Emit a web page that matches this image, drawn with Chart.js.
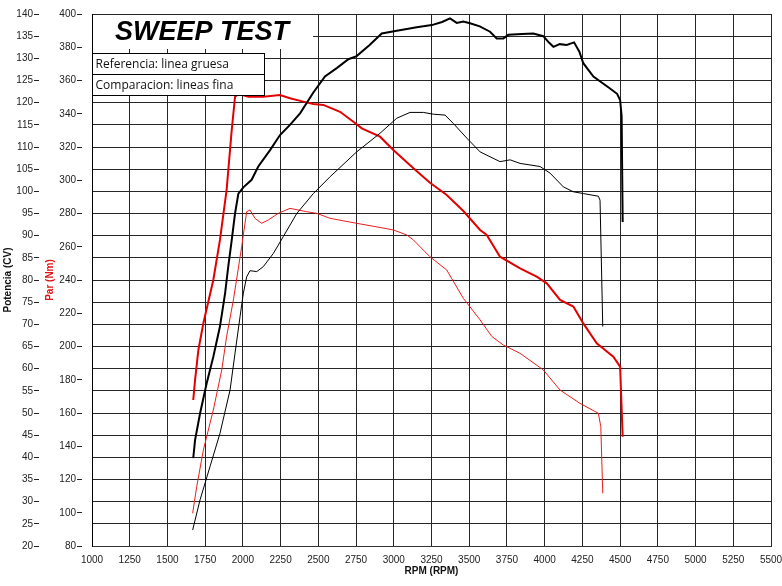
<!DOCTYPE html>
<html>
<head>
<meta charset="utf-8">
<script src="https://cdn.jsdelivr.net/npm/chart.js@4"></script>
<style>
  body { margin: 0; background: #fff; }
  #wrap { width: 782px; height: 586px; }
</style>
</head>
<body>
<div id="wrap"><canvas id="dyno"></canvas></div>
<script>
// Referencia (linea gruesa) - potencia CV
const refPowerRpm = [1671, 1683, 1716, 1760, 1804, 1848, 1882, 1903, 1926, 1948, 1970, 2003, 2058, 2102, 2180, 2246, 2312, 2379, 2467, 2544, 2622, 2699, 2754, 2840, 2920, 3020, 3152, 3252, 3320, 3373, 3417, 3461, 3505, 3570, 3638, 3682, 3726, 3759, 3850, 3925, 3991, 4030, 4058, 4100, 4146, 4195, 4230, 4256, 4323, 4433, 4480, 4500, 4510, 4517];
const refPowerCv = [39.8, 43.9, 49.9, 56.7, 62.7, 69.5, 77.0, 83.0, 89.0, 95.0, 99.5, 100.9, 102.6, 105.6, 109.3, 112.7, 115.0, 117.6, 122.3, 125.9, 127.8, 129.8, 130.5, 133.0, 135.6, 136.2, 137.0, 137.5, 138.2, 139.0, 138.0, 138.3, 137.9, 137.2, 136.0, 134.5, 134.5, 135.3, 135.5, 135.6, 135.0, 133.5, 132.6, 133.2, 133.0, 133.6, 131.5, 128.9, 125.9, 123.2, 122.0, 120.6, 117.0, 93.1];

// Comparacion (linea fina) - potencia CV
const cmpPowerRpm = [1667, 1716, 1782, 1848, 1915, 1948, 1981, 2003, 2025, 2047, 2092, 2135, 2202, 2268, 2357, 2467, 2578, 2754, 2909, 3020, 3108, 3196, 3262, 3340, 3395, 3484, 3572, 3704, 3771, 3837, 3969, 4036, 4124, 4190, 4256, 4356, 4367, 4385];
const cmpPowerCv = [23.6, 30.4, 37.9, 45.4, 55.2, 63.5, 71.7, 77.0, 80.7, 82.1, 81.9, 83.0, 86.0, 89.8, 95.0, 99.5, 103.3, 108.9, 113.1, 116.5, 117.8, 117.8, 117.4, 117.2, 115.3, 112.0, 108.9, 106.7, 107.1, 106.3, 105.6, 104.1, 101.0, 99.9, 99.5, 98.9, 98.0, 69.5];

// Referencia (linea gruesa) - par Nm
const refTorqueRpm = [1671, 1683, 1705, 1738, 1804, 1848, 1892, 1926, 1948, 1970, 2036, 2135, 2246, 2312, 2400, 2467, 2533, 2644, 2732, 2788, 2909, 2997, 3130, 3240, 3351, 3461, 3572, 3616, 3704, 3837, 3947, 4014, 4102, 4190, 4256, 4345, 4455, 4500, 4517];
const refTorqueNm = [167.8, 179.8, 197.9, 214.0, 240.0, 264.1, 294.1, 330.2, 350.3, 352.0, 350.3, 350.3, 351.3, 349.3, 347.3, 345.9, 345.3, 341.2, 335.2, 331.2, 326.2, 318.2, 307.2, 298.5, 291.1, 281.5, 270.1, 267.1, 254.0, 247.0, 242.0, 238.0, 228.0, 224.0, 213.9, 201.9, 193.9, 187.9, 145.7];

// Comparacion (linea fina) - par Nm
const cmpTorqueRpm = [1667, 1694, 1738, 1804, 1860, 1892, 1937, 1992, 2025, 2047, 2080, 2124, 2168, 2235, 2312, 2423, 2489, 2578, 2754, 2909, 2997, 3086, 3130, 3196, 3240, 3351, 3461, 3572, 3650, 3726, 3837, 3991, 4102, 4234, 4356, 4372, 4385];
const cmpTorqueNm = [99.7, 115.7, 137.7, 161.8, 185.9, 205.9, 228.0, 260.0, 281.1, 282.1, 277.1, 274.1, 276.1, 280.1, 283.1, 281.1, 280.1, 277.1, 274.1, 271.6, 270.1, 267.1, 264.1, 258.0, 254.0, 246.0, 229.0, 216.0, 206.0, 200.9, 195.9, 185.9, 173.8, 165.8, 159.8, 151.8, 111.7];

const legendLines = ['Referencia: linea gruesa', 'Comparacion: lineas fina'];
const chartTitle = 'SWEEP TEST';

const toPoints = (xs, ys) => xs.map((x, i) => ({ x: x, y: ys[i] }));

const tickFont = { family: 'Liberation Sans, Arial, sans-serif', size: 10 };
const axisTitleFont = { family: 'Liberation Sans, Arial, sans-serif', size: 10, weight: 'bold' };

// cuadro blanco del titulo y cajas de leyenda
const overlayPlugin = {
  id: 'overlay',
  beforeDatasetsDraw(chart) {
    const { ctx, chartArea } = chart;
    ctx.save();
    ctx.fillStyle = '#fff';
    ctx.fillRect(chartArea.left + 1, chartArea.top + 1, 220, 34);
    ctx.fillStyle = '#000';
    ctx.font = 'italic bold 27px "Liberation Sans", Arial, sans-serif';
    ctx.textAlign = 'center';
    ctx.textBaseline = 'alphabetic';
    ctx.fillText(chartTitle, chartArea.left + 110, chartArea.top + 26);
    ctx.restore();
  },
  afterDatasetsDraw(chart) {
    const { ctx, chartArea } = chart;
    ctx.save();
    const x = chartArea.left + 0.5;
    const w = 172;
    const tops = [53.5, 74.5];
    const h = 21;
    ctx.font = '12px "Open Sans", sans-serif';
    ctx.textAlign = 'left';
    ctx.textBaseline = 'middle';
    tops.forEach((t, i) => {
      ctx.fillStyle = '#fff';
      ctx.fillRect(x, t, w, h);
      ctx.strokeStyle = '#000';
      ctx.lineWidth = 1;
      ctx.strokeRect(x, t, w, h);
      ctx.fillStyle = '#111';
      ctx.fillText(legendLines[i], x + 3, t + h / 2 + 1);
    });
    ctx.restore();
  }
};

new Chart(document.getElementById('dyno'), {
  type: 'line',
  data: {
    datasets: [
      {
        label: 'Potencia referencia',
        data: toPoints(refPowerRpm, refPowerCv),
        yAxisID: 'yPot',
        borderColor: '#000',
        borderWidth: 2
      },
      {
        label: 'Potencia comparacion',
        data: toPoints(cmpPowerRpm, cmpPowerCv),
        yAxisID: 'yPot',
        borderColor: '#000',
        borderWidth: 1
      },
      {
        label: 'Par referencia',
        data: toPoints(refTorqueRpm, refTorqueNm),
        yAxisID: 'yPar',
        borderColor: 'rgb(226,0,0)',
        borderWidth: 2
      },
      {
        label: 'Par comparacion',
        data: toPoints(cmpTorqueRpm, cmpTorqueNm),
        yAxisID: 'yPar',
        borderColor: 'rgb(232,30,30)',
        borderWidth: 1
      }
    ]
  },
  options: {
    responsive: true,
    maintainAspectRatio: false,
    animation: false,
    layout: { padding: { top: 14, right: 0, left: 0, bottom: 0 } },
    elements: { point: { radius: 0 }, line: { tension: 0 } },
    plugins: { legend: { display: false }, tooltip: { enabled: false } },
    scales: {
      x: {
        type: 'linear',
        min: 1000,
        max: 5500,
        afterFit: (s) => { s.height = 40; s.paddingRight = 11; s.paddingLeft = 0; },
        ticks: {
          stepSize: 250,
          autoSkip: false,
          maxRotation: 0,
          padding: 8,
          color: '#222',
          font: tickFont,
          callback: (v) => String(v)
        },
        grid: { color: '#262626', drawTicks: false },
        border: { color: '#333' },
        title: {
          display: true,
          text: 'RPM (RPM)',
          color: '#111',
          font: axisTitleFont,
          padding: { top: 0, bottom: 9 }
        }
      },
      yPot: {
        type: 'linear',
        position: 'left',
        weight: 1,
        min: 20,
        max: 140,
        afterFit: (s) => { s.width = 39; },
        ticks: {
          stepSize: 5,
          padding: 1,
          color: '#222',
          font: tickFont,
          callback: (v) => String(v)
        },
        grid: { color: '#262626', drawTicks: true, tickLength: 5, tickColor: '#222' },
        border: { display: false },
        title: {
          display: true,
          text: 'Potencia (CV)',
          color: '#111',
          font: axisTitleFont,
          padding: { top: 2, bottom: 0 }
        }
      },
      yPar: {
        type: 'linear',
        position: 'left',
        weight: 0,
        min: 80,
        max: 400,
        afterFit: (s) => { s.width = 53; },
        ticks: {
          stepSize: 20,
          padding: 1,
          color: '#222',
          font: tickFont,
          callback: (v) => String(v)
        },
        grid: {
          drawOnChartArea: false,
          drawTicks: true,
          tickLength: 15,
          tickColor: '#222',
          tickBorderDash: [5, 10]
        },
        border: { display: true, color: '#000' },
        title: {
          display: true,
          text: 'Par (Nm)',
          color: 'rgb(220,20,20)',
          font: axisTitleFont,
          padding: { top: 5, bottom: 0 }
        }
      }
    }
  },
  plugins: [overlayPlugin]
});
</script>
</body>
</html>
